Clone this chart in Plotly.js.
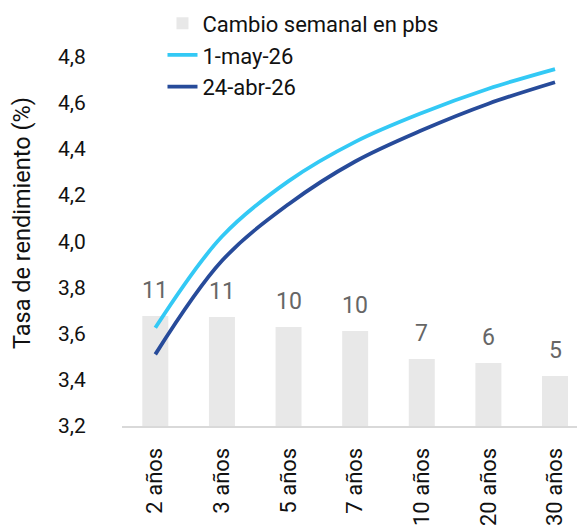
<!DOCTYPE html>
<html>
<head>
<meta charset="utf-8">
<script src="https://cdn.plot.ly/plotly-3.0.1.min.js"></script>
<style>html,body{margin:0;padding:0;background:#fff;}#chart{width:577px;height:527px;}</style>
</head>
<body>
<div id="chart"></div>
<script>
const categories = ["2 años", "3 años", "5 años", "7 años", "10 años", "20 años", "30 años"];
const cambioPbs = [11.0, 10.9, 9.9, 9.5, 6.7, 6.3, 5.0];
const may1 = [3.625, 4.02, 4.26, 4.43, 4.555, 4.66, 4.745];
const abr24 = [3.51, 3.915, 4.16, 4.345, 4.48, 4.595, 4.688];
const yTicks = [3.2, 3.4, 3.6, 3.8, 4.0, 4.2, 4.4, 4.6, 4.8];
const seriesNames = ["Cambio semanal en pbs", "1-may-26", "24-abr-26"];
const yTitle = "Tasa de rendimiento (%)";

const font = "Roboto, 'Noto Sans', sans-serif";

const traces = [
  {type: "bar", x: categories, y: cambioPbs, name: seriesNames[0], yaxis: "y",
   marker: {color: "#e8e8e8"}, width: 0.39, hoverinfo: "skip"},
  {type: "scatter", mode: "lines", x: categories, y: may1, name: seriesNames[1], yaxis: "y2",
   line: {color: "#33c9f5", width: 3.8, shape: "spline", smoothing: 1}},
  {type: "scatter", mode: "lines", x: categories, y: abr24, name: seriesNames[2], yaxis: "y2",
   line: {color: "#274b9a", width: 3.8, shape: "spline", smoothing: 1}}
];

const annotations = categories.map((c, i) => ({
  x: c, y: cambioPbs[i], xref: "x", yref: "y",
  text: String(Math.round(cambioPbs[i])), showarrow: false,
  yanchor: "middle", yshift: 26,
  font: {family: font, size: 23, color: "#666666"}
}));
annotations.push({
  xref: "paper", yref: "paper", x: -100 / 455, y: (426 - 223) / 426,
  xanchor: "center", yanchor: "middle", textangle: -90, showarrow: false,
  text: yTitle, font: {family: font, size: 23.5, color: "#111111"}
});

const layout = {
  width: 577, height: 527,
  margin: {l: 122, r: 0, t: 0, b: 101},
  paper_bgcolor: "#ffffff", plot_bgcolor: "#ffffff",
  font: {family: font, color: "#111111"},
  separators: ",.",
  showlegend: true,
  legend: {x: 0.089, y: 0.994, xanchor: "left", yanchor: "top",
           font: {family: font, size: 22, color: "#111111"},
           bgcolor: "rgba(0,0,0,0)", tracegroupgap: 0, traceorder: "normal"},
  xaxis: {type: "category", range: [-0.5, 6.33], showgrid: false, zeroline: false,
          showline: true, linecolor: "#d9d9d9", linewidth: 2,
          ticks: "outside", ticklen: 11, tickcolor: "rgba(0,0,0,0)",
          tickangle: -90, tickfont: {family: font, size: 22, color: "#111111"}},
  yaxis: {range: [0, 42.6], visible: false, showgrid: false, zeroline: false, fixedrange: true},
  yaxis2: {overlaying: "y", side: "left", range: [3.2, 5.044],
           tickvals: yTicks, tickformat: ".1f",
           showgrid: false, zeroline: false, showline: false,
           ticks: "outside", ticklen: 31, tickcolor: "rgba(0,0,0,0)",
           tickfont: {family: font, size: 21, color: "#111111"}},
  annotations: annotations
};

Plotly.newPlot("chart", traces, layout, {displayModeBar: false, staticPlot: true});
</script>
</body>
</html>
